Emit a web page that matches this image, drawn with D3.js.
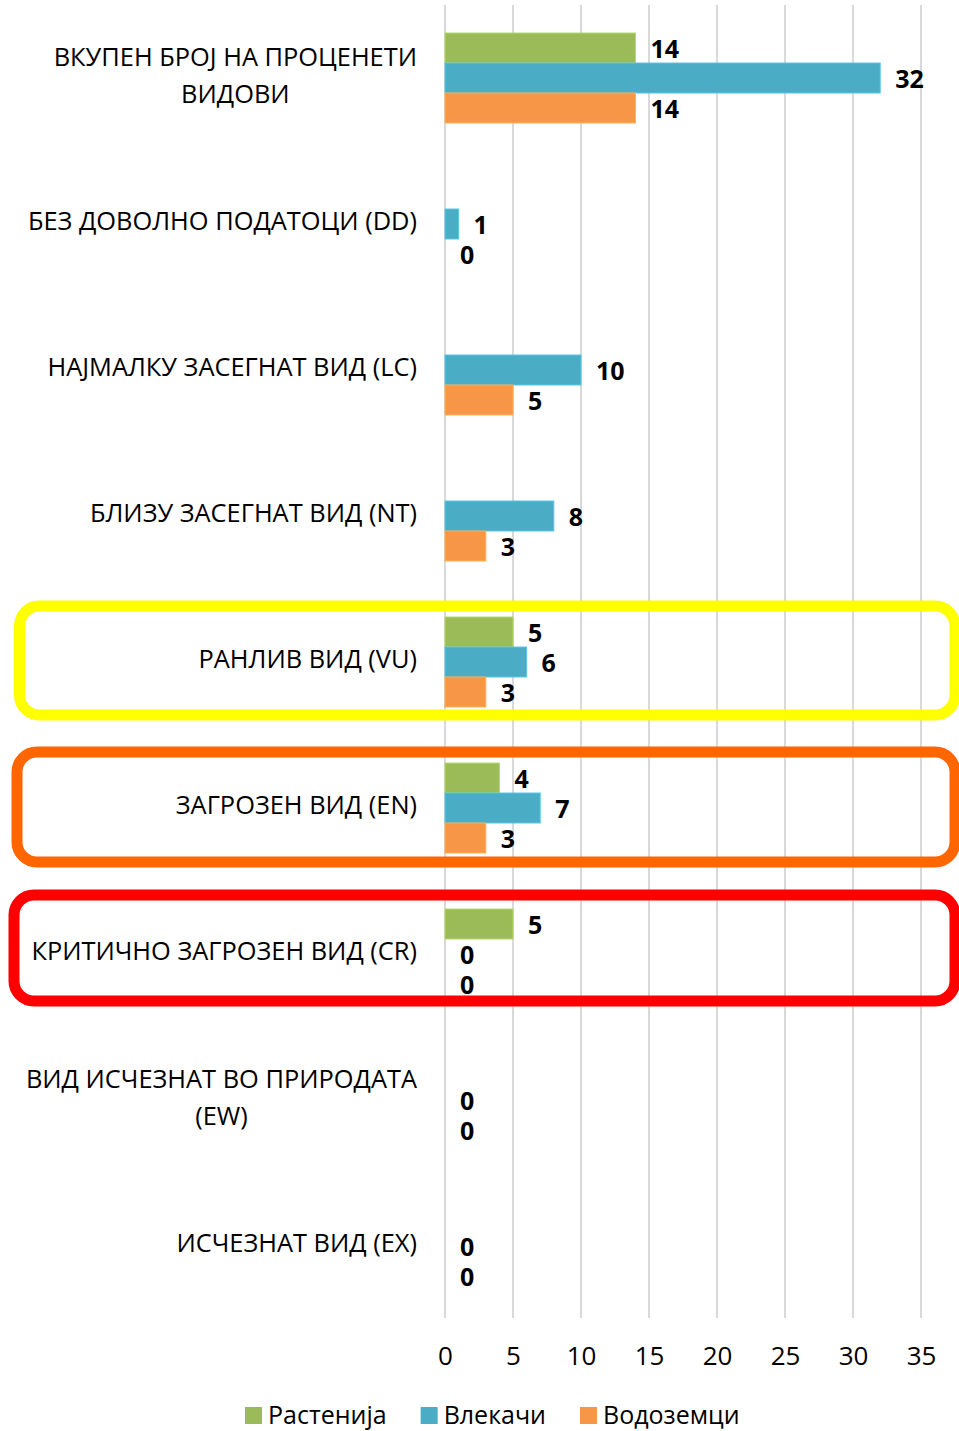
<!DOCTYPE html>
<html>
<head>
<meta charset="utf-8">
<script src="https://cdn.jsdelivr.net/npm/d3@7"></script>
<style>
  html, body { margin: 0; padding: 0; background: #fff; }
  svg { display: block; }
  text { font-family: "Open Sans", "Noto Sans", sans-serif; }
</style>
</head>
<body>
<svg id="chart" width="959" height="1431"></svg>
<script>
const categories = [
  "ВКУПЕН БРОЈ НА ПРОЦЕНЕТИ ВИДОВИ",
  "БЕЗ ДОВОЛНО ПОДАТОЦИ (DD)",
  "НАЈМАЛКУ ЗАСЕГНАТ ВИД (LC)",
  "БЛИЗУ ЗАСЕГНАТ ВИД (NT)",
  "РАНЛИВ ВИД (VU)",
  "ЗАГРОЗЕН ВИД (EN)",
  "КРИТИЧНО ЗАГРОЗЕН ВИД (CR)",
  "ВИД ИСЧЕЗНАТ ВО ПРИРОДАТА (EW)",
  "ИСЧЕЗНАТ ВИД (EX)"
];
const seriesNames = ["Растенија", "Влекачи", "Водоземци"];
const plants     = [14, null, null, null, 5, 4, 5, null, null];
const reptiles   = [32, 1, 10, 8, 6, 7, 0, 0, 0];
const amphibians = [14, 0, 5, 3, 3, 3, 0, 0, 0];
const xTicks = [0, 5, 10, 15, 20, 25, 30, 35];
const colors = ["#9BBB59", "#4BACC6", "#F79646"];
const highlightColors = ["#FFFF00", "#FF6600", "#FF0000"];

const seriesValues = [plants, reptiles, amphibians];

(function () {
const svg = d3.select("#chart");
const pLeft = 445, pRight = 921, pTop = 5, pBottom = 1319;

const x = d3.scaleLinear().domain([0, 35]).range([pLeft, pRight]);
const y = d3.scaleBand().domain(categories).range([pTop, pBottom])
  .paddingInner(0.384).paddingOuter(0.192);
const y1 = d3.scaleBand().domain(seriesNames).range([0, y.bandwidth()]);

// gridlines
svg.append("g").selectAll("line").data(xTicks).join("line")
  .attr("x1", d => x(d)).attr("x2", d => x(d))
  .attr("y1", pTop).attr("y2", 1318)
  .attr("stroke", "#D9D9D9").attr("stroke-width", 2);

// x axis labels
const xAxis = d3.axisBottom(x).tickValues(xTicks).tickSize(0).tickPadding(0);
const gx = svg.append("g").attr("transform", `translate(0,1344)`).call(xAxis);
gx.select(".domain").remove();
gx.selectAll("text").attr("font-size", 26).attr("fill", "#000")
  .attr("font-family", '"Open Sans", sans-serif').attr("dy", "0.71em").attr("y", 3);

// bars
const gBars = svg.append("g");
categories.forEach((cat, i) => {
  seriesNames.forEach((s, j) => {
    const v = seriesValues[j][i];
    if (v === null) return;
    const by = y(cat) + y1(s);
    if (v > 0) {
      gBars.append("rect")
        .attr("x", x(0)).attr("y", by)
        .attr("width", x(v) - x(0)).attr("height", y1.bandwidth())
        .attr("fill", colors[j])
        .attr("stroke", d3.color(colors[j]).brighter(0.4)).attr("stroke-width", 1);
    }
    gBars.append("text")
      .attr("x", x(v) + 15).attr("y", by + y1.bandwidth() / 2 + 1)
      .attr("dy", "0.36em")
      .attr("font-size", 25).attr("font-weight", "bold").attr("fill", "#000")
      .text(v);
  });
});

// category labels (wrapped, centred lines, right aligned block)
const gLabels = svg.append("g");
const labelRight = 417, maxW = 400, lineH = 37, catFont = 25.4;
function measure(txt) {
  const t = svg.append("text").attr("font-size", catFont).text(txt);
  const w = t.node().getComputedTextLength();
  t.remove();
  return w;
}
categories.forEach(cat => {
  const words = cat.split(" ");
  const lines = [];
  let cur = "";
  words.forEach(w => {
    const test = cur ? cur + " " + w : w;
    if (measure(test) > maxW && cur) { lines.push(cur); cur = w; }
    else cur = test;
  });
  if (cur) lines.push(cur);
  const blockW = d3.max(lines, measure);
  const cx = labelRight - blockW / 2;
  const cy = y(cat) + y.bandwidth() / 2 - 3;
  const t = gLabels.append("text")
    .attr("text-anchor", "middle").attr("font-size", catFont).attr("fill", "#000");
  lines.forEach((ln, k) => {
    t.append("tspan").attr("x", cx)
      .attr("y", cy + (k - (lines.length - 1) / 2) * lineH)
      .attr("dy", "0.36em").text(ln);
  });
});

// highlight rounded rectangles
const hlBoxes = [
  { x0: 19.5, x1: 955, y0: 606, y1: 715 },
  { x0: 17, x1: 955, y0: 752, y1: 862 },
  { x0: 14, x1: 955, y0: 895, y1: 1001 }
];
hlBoxes.forEach((b, i) => {
  svg.append("rect")
    .attr("x", b.x0).attr("y", b.y0)
    .attr("width", b.x1 - b.x0).attr("height", b.y1 - b.y0)
    .attr("rx", 20).attr("ry", 20)
    .attr("fill", "none").attr("stroke", highlightColors[i]).attr("stroke-width", 11);
});

// legend
const legendFont = 25;
const gLeg = svg.append("g");
let lx = 245;
const ly = 1415;
seriesNames.forEach((s, j) => {
  gLeg.append("rect").attr("x", lx).attr("y", ly - 8).attr("width", 17).attr("height", 17)
    .attr("fill", colors[j]);
  const t = gLeg.append("text").attr("x", lx + 23).attr("y", ly).attr("dy", "0.36em")
    .attr("font-size", legendFont).attr("fill", "#000").text(s);
  lx += 23 + t.node().getComputedTextLength() + 34;
});
})();
</script>
</body>
</html>
